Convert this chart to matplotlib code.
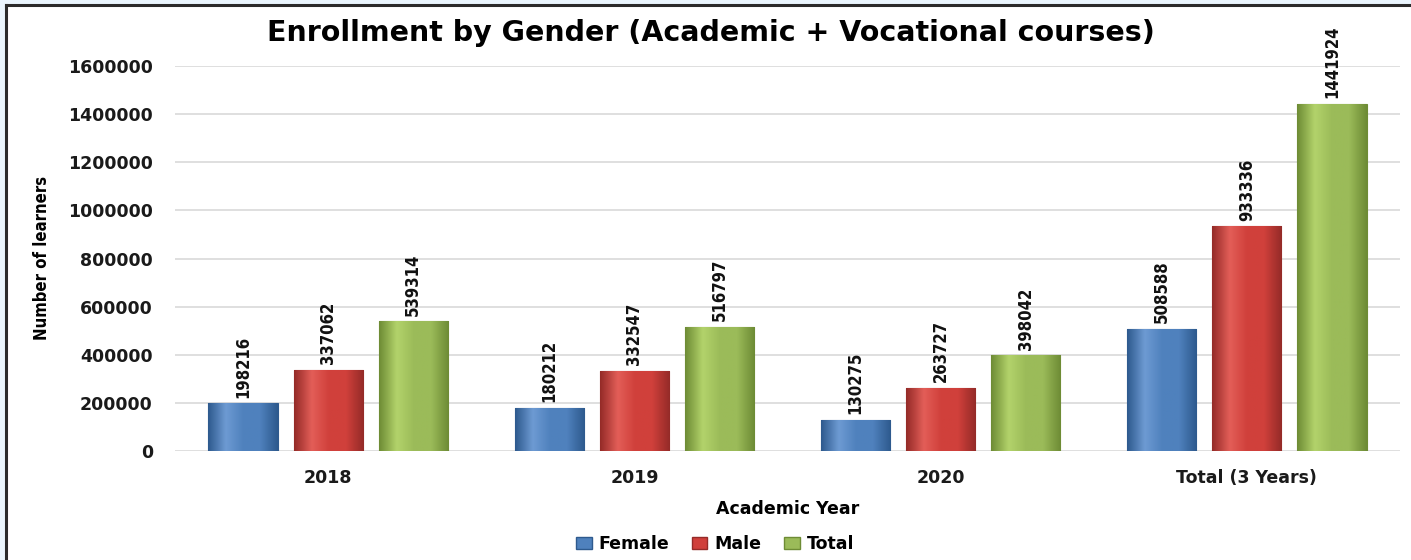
import numpy as np
import matplotlib.pyplot as plt
from matplotlib.patches import Patch
from matplotlib.colors import LinearSegmentedColormap

# Enrollment data
years = ["2018", "2019", "2020", "Total (3 Years)"]
female = [198216, 180212, 130275, 508588]
male = [337062, 332547, 263727, 933336]
total = [539314, 516797, 398042, 1441924]
series_names = ["Female", "Male", "Total"]
yticks = [0, 200000, 400000, 600000, 800000, 1000000, 1200000, 1400000, 1600000]

colors = ["#4F81BD", "#D0403B", "#9BBB59"]
dark = ["#2E5A8E", "#952B28", "#6E8C35"]
light = ["#6E9BD3", "#E35E58", "#B3D36B"]

fig = plt.figure(figsize=(14.11, 5.6), dpi=100)
fig.patch.set_facecolor("white")

# outer frame (light blue margin + dark line on left/top)
fig.add_artist(plt.Rectangle((0, 0), 5 / 1411, 1, transform=fig.transFigure, color="#EAF5FD", zorder=0))
fig.add_artist(plt.Rectangle((0, 1 - 4 / 560), 1, 4 / 560, transform=fig.transFigure, color="#EAF5FD", zorder=0))
fig.add_artist(plt.Line2D([6 / 1411, 6 / 1411], [0, 1 - 5 / 560], transform=fig.transFigure, color="#2b2b2b", lw=2.2))
fig.add_artist(plt.Line2D([6 / 1411, 1], [1 - 5 / 560, 1 - 5 / 560], transform=fig.transFigure, color="#2b2b2b", lw=2.2))

ax = fig.add_axes([175 / 1411, 1 - 451 / 560, 1225 / 1411, (451 - 66) / 560])

x = np.arange(len(years))
width = 0.226
step = 0.278
grad = np.linspace(0, 1, 64).reshape(1, -1)

for i, vals in enumerate([female, male, total]):
    offs = (i - 1) * step
    bars = ax.bar(x + offs, vals, width, color=colors[i], edgecolor=dark[i], linewidth=0.8, zorder=3)
    cmap = LinearSegmentedColormap.from_list("g", [dark[i], light[i], colors[i], colors[i], dark[i]])
    for b, v in zip(bars, vals):
        x0 = b.get_x()
        im = ax.imshow(grad, cmap=cmap, aspect="auto", extent=(x0, x0 + width, 0, v), zorder=3.5)
        im.set_clip_path(b)
        ax.annotate(str(v), (x0 + width / 2, v), xytext=(0, 4), textcoords="offset points",
                    rotation=90, ha="center", va="bottom", fontsize=12, fontweight="bold",
                    family="DejaVu Sans", fontstretch="condensed", color="#111111", zorder=5)

ax.set_xlim(-0.5, len(years) - 0.5)
ax.set_ylim(0, 1600000)
ax.set_yticks(yticks)
ax.set_yticklabels([str(t) for t in yticks])
ax.set_xticks(x)
ax.set_xticklabels(years)
ax.grid(axis="y", color="#D9D9D9", linewidth=1.2, zorder=0)
for s in ax.spines.values():
    s.set_visible(False)
ax.tick_params(length=0, labelsize=12.5)
ax.tick_params(axis="y", pad=16)
ax.tick_params(axis="x", pad=13)
for lab in ax.get_xticklabels() + ax.get_yticklabels():
    lab.set_fontweight("bold")
    lab.set_color("#1a1a1a")

ax.set_xlabel("Academic Year", fontsize=12.5, fontweight="bold", labelpad=9)
fig.text(42 / 1411, 1 - 258 / 560, "Number of learners", rotation=90, ha="center", va="center",
         fontsize=12, fontweight="bold", family="DejaVu Sans", fontstretch="condensed")
fig.text(711 / 1411, 1 - 33 / 560, "Enrollment by Gender (Academic + Vocational courses)",
         ha="center", va="center", fontsize=20.5, fontweight="bold", family="DejaVu Sans")

handles = [Patch(facecolor=colors[i], edgecolor=dark[i]) for i in range(3)]
fig.legend(handles, series_names, loc="center", bbox_to_anchor=(715 / 1411, 1 - 544 / 560), ncol=3,
           frameon=False, prop={"weight": "bold", "size": 12.5}, handlelength=0.9, handleheight=0.7,
           handletextpad=0.4, columnspacing=1.3)

fig.savefig("out.png", dpi=100)
